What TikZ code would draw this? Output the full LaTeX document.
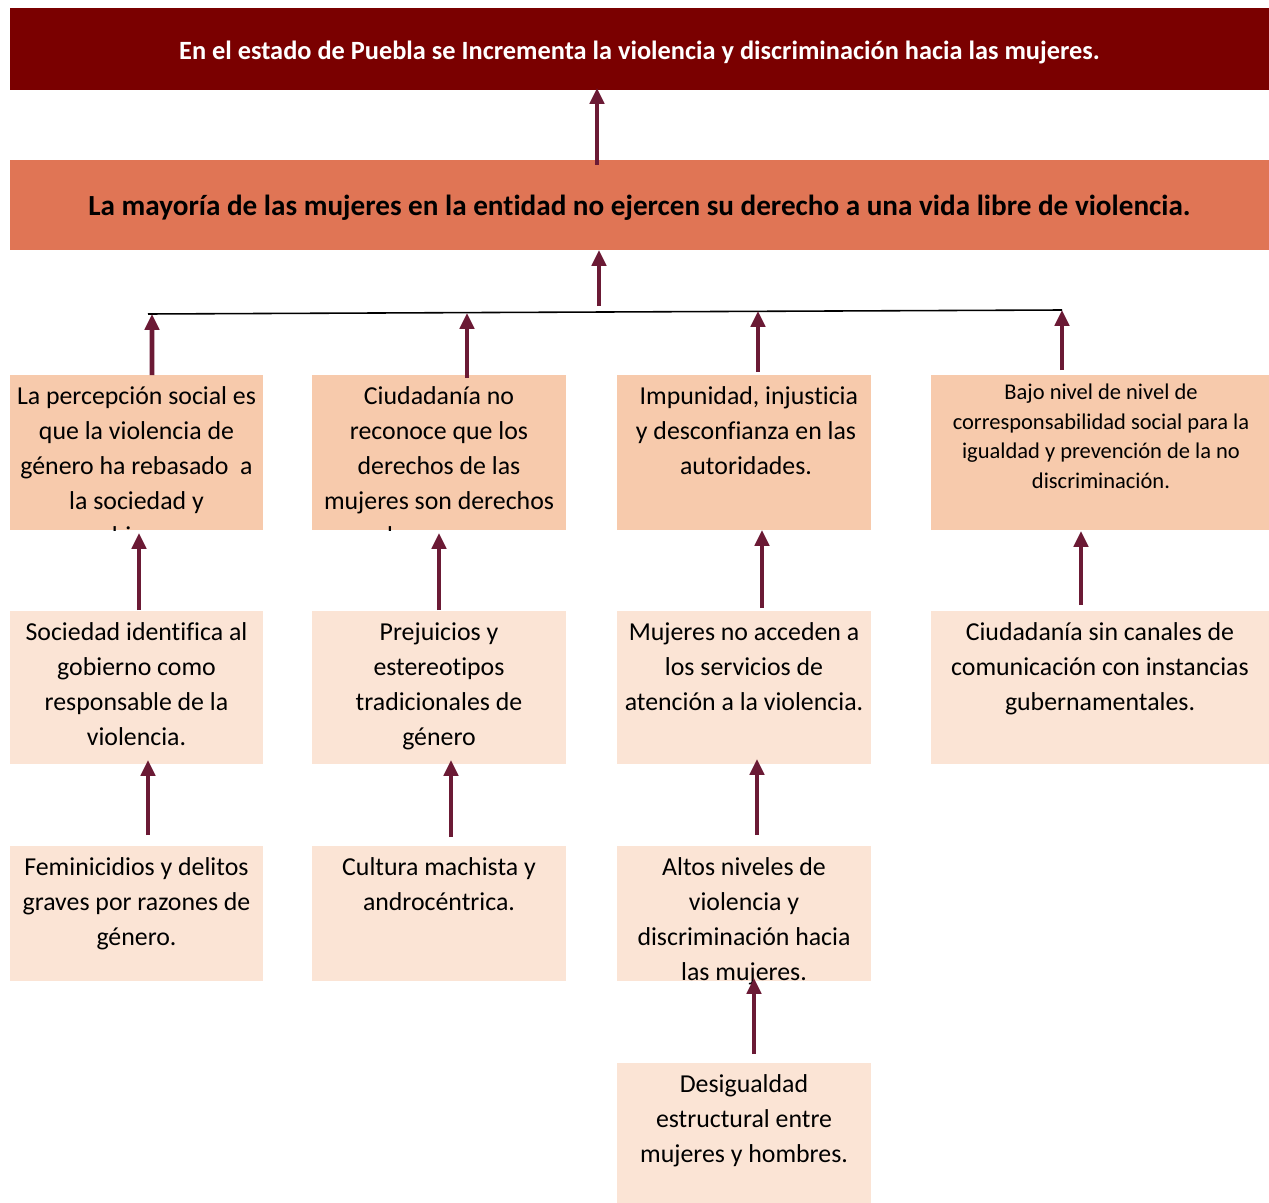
\documentclass[tikz,border=0pt]{standalone}
\usepackage{fontspec}
\setmainfont{Carlito}[Ligatures=NoCommon]
\usetikzlibrary{fit,arrows.meta}
\definecolor{vino}{HTML}{7A0000}
\definecolor{coral}{HTML}{E07555}
\definecolor{durazno}{HTML}{F7CAAC}
\definecolor{rosado}{HTML}{FBE4D5}
\definecolor{guinda}{HTML}{6B1A35}
\tikzset{
  flecha/.style={draw=guinda,line width=2.8pt,-{Triangle[width=8pt,length=9pt]}},
  texto/.style={align=center,anchor=north,font=\fontsize{14.7}{19.8}\selectfont,execute at begin node=\strut},
  chico/.style={font=\fontsize{12.8}{16.8}\selectfont},
}

\begin{document}
\begin{tikzpicture}[x=0.02cm,y=-0.02cm]
        \useasboundingbox (0,0) rectangle (1269,1203);

        \begin{scope}[every node/.style={inner sep=0pt,outer sep=0pt}]
          \node[fill=vino,fit={(10,8) (1269,90)}] (efecto) {};
          \node[fill=coral,fit={(10,160) (1269,250)}] (problema) {};
          \node[text=white,font=\bfseries\fontsize{15}{18}\selectfont] (tefecto) at ([shift={(0,3)}]efecto.center) {En el estado de Puebla se Incrementa la violencia y discriminación hacia las mujeres.};
          \node[font=\bfseries\fontsize{16.6}{19}\selectfont] (tproblema) at ([shift={(0,3)}]problema.center) {La mayoría de las mujeres en la entidad no ejercen su derecho a una vida libre de violencia.};

          \node[fill=durazno,fit={(10,375) (263,530)}] (c1) {};
          \node[fill=durazno,fit={(312,375) (566,530)}] (c2) {};
          \node[fill=durazno,fit={(617,375) (871,530)}] (c3) {};
          \node[fill=durazno,fit={(931,375) (1269,530)}] (c4) {};
          \node[fill=rosado,fit={(10,611) (263,764)}] (d1) {};
          \node[fill=rosado,fit={(312,611) (566,764)}] (d2) {};
          \node[fill=rosado,fit={(617,611) (871,764)}] (d3) {};
          \node[fill=rosado,fit={(931,611) (1269,764)}] (d4) {};
          \node[fill=rosado,fit={(10,846) (263,981)}] (e1) {};
          \node[fill=rosado,fit={(312,846) (566,981)}] (e2) {};
          \node[fill=rosado,fit={(617,846) (871,981)}] (e3) {};
          \node[fill=rosado,fit={(617,1063) (871,1203)}] (f3) {};

          \begin{scope}
            \clip (c1.south west) rectangle (c1.north east);
            \node[texto] (tc1) at ([shift={(0,12)}]c1.north) {La percepción social es\\que la violencia de\\género ha rebasado~ a\\la sociedad y\\gobierno.};
          \end{scope}
          \begin{scope}
            \clip (c2.south west) rectangle (c2.north east);
            \node[texto] (tc2) at ([shift={(0,12)}]c2.north) {Ciudadanía no\\reconoce que los\\derechos de las\\mujeres son derechos\\humanos.};
          \end{scope}
          \node[texto] (tc3) at ([shift={(2,12)}]c3.north) {~Impunidad, injusticia\\y desconfianza en las\\autoridades.};
          \node[texto,chico] (tc4) at ([shift={(1,9)}]c4.north) {Bajo nivel de nivel de\\corresponsabilidad social para la\\igualdad y prevención de la no\\discriminación.};
          \node[texto] (td1) at ([shift={(0,12)}]d1.north) {Sociedad identifica al\\gobierno como\\responsable de la\\violencia.};
          \node[texto] (td2) at ([shift={(0,12)}]d2.north) {Prejuicios y\\estereotipos\\tradicionales de\\género};
          \node[texto] (td3) at ([shift={(0,12)}]d3.north) {Mujeres no acceden a\\los servicios de\\atención a la violencia.};
          \node[texto] (td4) at ([shift={(0,12)}]d4.north) {Ciudadanía sin canales de\\comunicación con instancias\\gubernamentales.};
          \node[texto] (te1) at ([shift={(0,12)}]e1.north) {Feminicidios y delitos\\graves por razones de\\género.};
          \node[texto] (te2) at ([shift={(0,12)}]e2.north) {Cultura machista y\\androcéntrica.};
          \node[texto] (te3) at ([shift={(0,12)}]e3.north) {Altos niveles de\\violencia y\\discriminación hacia\\las mujeres.};
          \node[texto] (tf3) at ([shift={(0,12)}]f3.north) {Desigualdad\\estructural entre\\mujeres y hombres.};
        \end{scope}

        \coordinate (barraIzq) at (148,314);
        \coordinate (barraDer) at (1062,310);
        \coordinate (b1) at (152,314);
        \coordinate (b2) at (467,313);
        \coordinate (b3) at (758,311);
        \coordinate (b4) at (1062,310);
        \coordinate (bMedio) at (599,306);
        \draw[line width=0.9pt] (barraIzq) -- (barraDer);

        \begin{scope}[every edge/.style={flecha}]
          \path ([shift={(-42.5,5)}]problema.north) edge ([shift={(-42.5,-2)}]efecto.south);
          \path (bMedio) edge (bMedio |- problema.south);
          \path ([shift={(15.5,0)}]c1.north) edge (b1);
          \path ([shift={(28,3)}]c2.north) edge (b2);
          \path ([shift={(14,-3)}]c3.north) edge (b3);
          \path ([shift={(-38,-5)}]c4.north) edge (b4);
          \path ([shift={(2.5,-1)}]d1.north) edge ([shift={(2.5,3)}]c1.south);
          \path ([shift={(0,-1)}]d2.north) edge ([shift={(0,3)}]c2.south);
          \path ([shift={(18,-3)}]d3.north) edge ([shift={(18,0)}]c3.south);
          \path ([shift={(-19,-6)}]d4.north) edge ([shift={(-19,1)}]c4.south);
          \path ([shift={(11.5,-11)}]e1.north) edge ([shift={(11.5,-4)}]d1.south);
          \path ([shift={(12,-9)}]e2.north) edge ([shift={(12,-4)}]d2.south);
          \path ([shift={(13,-11)}]e3.north) edge ([shift={(13,-5)}]d3.south);
          \path ([shift={(10,-9)}]f3.north) edge ([shift={(10,-3)}]e3.south);
        \end{scope}

      \end{tikzpicture}
\end{document}
